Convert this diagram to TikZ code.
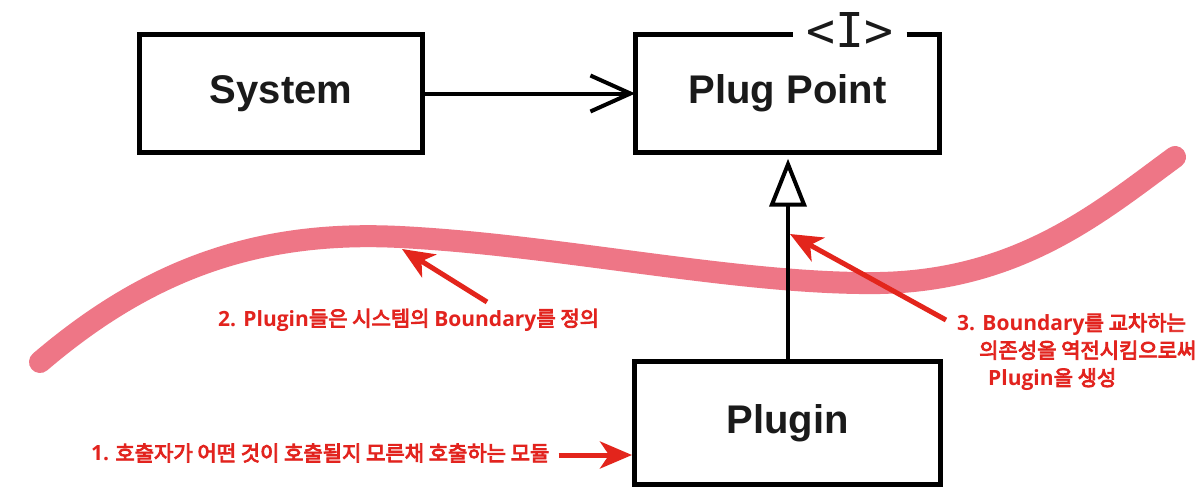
\documentclass[tikz,border=0pt]{standalone}
\usepackage{fontspec}
\usetikzlibrary{arrows.meta,calc}
\newfontfamily\boxfont{Liberation Sans}
\newfontfamily\monof{DejaVu Sans Mono}
\newfontfamily\krf{Noto Sans CJK KR}[FakeStretch=1.0,FakeBold=4]
\newfontfamily\enf{Open Sans}
\definecolor{txtblack}{HTML}{1A1A1A}
\definecolor{notered}{HTML}{E2231E}
\definecolor{arrowred}{HTML}{E3251C}
\definecolor{boundpink}{RGB}{238,118,134}
\newcommand\lat[1]{{\enf\bfseries\fontsize{21}{27.5}\selectfont #1}}
\tikzset{
  umlbox/.style={draw=black, line width=5pt, inner sep=0pt,
    font=\boxfont\bfseries\fontsize{40}{48}\selectfont, text=txtblack},
  boxline/.style={draw=black, line width=5pt, line join=miter},
  note/.style={text=notered, inner sep=0pt,
    font=\krf\fontsize{21}{27.5}\selectfont},
  callout/.style={draw=arrowred, line width=5pt,
    -{Stealth[length=32pt,width=27pt,inset=9pt]}},
  depend/.style={draw=black, line width=4pt,
    -{Straight Barb[length=40pt,width=36pt,line width=4pt]}},
  realize/.style={draw=black, line width=4pt,
    -{Triangle[open,length=48pt,width=37pt,line width=4pt,fill=white]}},
  boundary/.style={draw=boundpink, line width=22pt, line cap=round}
}
\begin{document}
\begin{tikzpicture}[x=1pt,y=-1pt]
\useasboundingbox[fill=white] (0,0) rectangle (1201,498);

% boundary curve
\draw[boundary] (40,362) .. controls (150,268) and (260,230) .. (400,237)
  .. controls (560,245) and (740,285) .. (880,283)
  .. controls (1020,280) and (1100,212) .. (1175,157);

% boxes
\node[umlbox, minimum width=283pt, minimum height=118pt] (sys) at (281,93.5) {System};
\node[inner sep=0pt, minimum width=304pt, minimum height=118pt,
      font=\boxfont\bfseries\fontsize{40}{48}\selectfont, text=txtblack] (pp) at (787.5,93.5) {Plug Point};
\node[font=\monof\fontsize{48}{48}\selectfont, text=txtblack,
      inner sep=0pt, minimum width=113pt] (iface) at (850,30) {<I>};
\draw[boxline] (iface.east |- pp.north) -- (pp.north east) -- (pp.south east)
  -- (pp.south west) -- (pp.north west) -- (iface.west |- pp.north);
\node[umlbox, minimum width=306pt, minimum height=123pt] (plugin) at (787.5,423) {Plugin};

% connectors
\draw[depend] (sys.east) -- (pp.west);
\draw[realize, shorten >=6pt] (plugin.north -| 788,0) -- (pp.south -| 788,0);

% notes
\node[note, anchor=west] (t1) at (91,453)
  {\lat{1.} 호출자가 어떤 것이 호출될지 모른채 호출하는 모듈};
\node[note, anchor=west] (t2) at (218,320)
  {\lat{2. Plugin}들은 시스템의 \lat{Boundary}를 정의};
\node[note, anchor=north west, align=left] (t3) at (957,313)
  {\lat{3. Boundary}를 교차하는\\
   \hspace*{22pt}의존성을 역전시킴으로써\\
   \hspace*{31pt}\lat{Plugin}을 생성};

% callout arrows
\coordinate (a2tail) at (487,302);
\coordinate (a2tip) at (402,249);
\coordinate (a3tail) at (946,320);
\coordinate (a3tip) at (790,234);
\draw[callout] ($(t1.east)+(9,2)$) -- ($(t1.east -| plugin.west)+(0,2)$);
\draw[callout] (a2tail) -- (a2tip);
\draw[callout] (a3tail) -- (a3tip);
\end{tikzpicture}
\end{document}
